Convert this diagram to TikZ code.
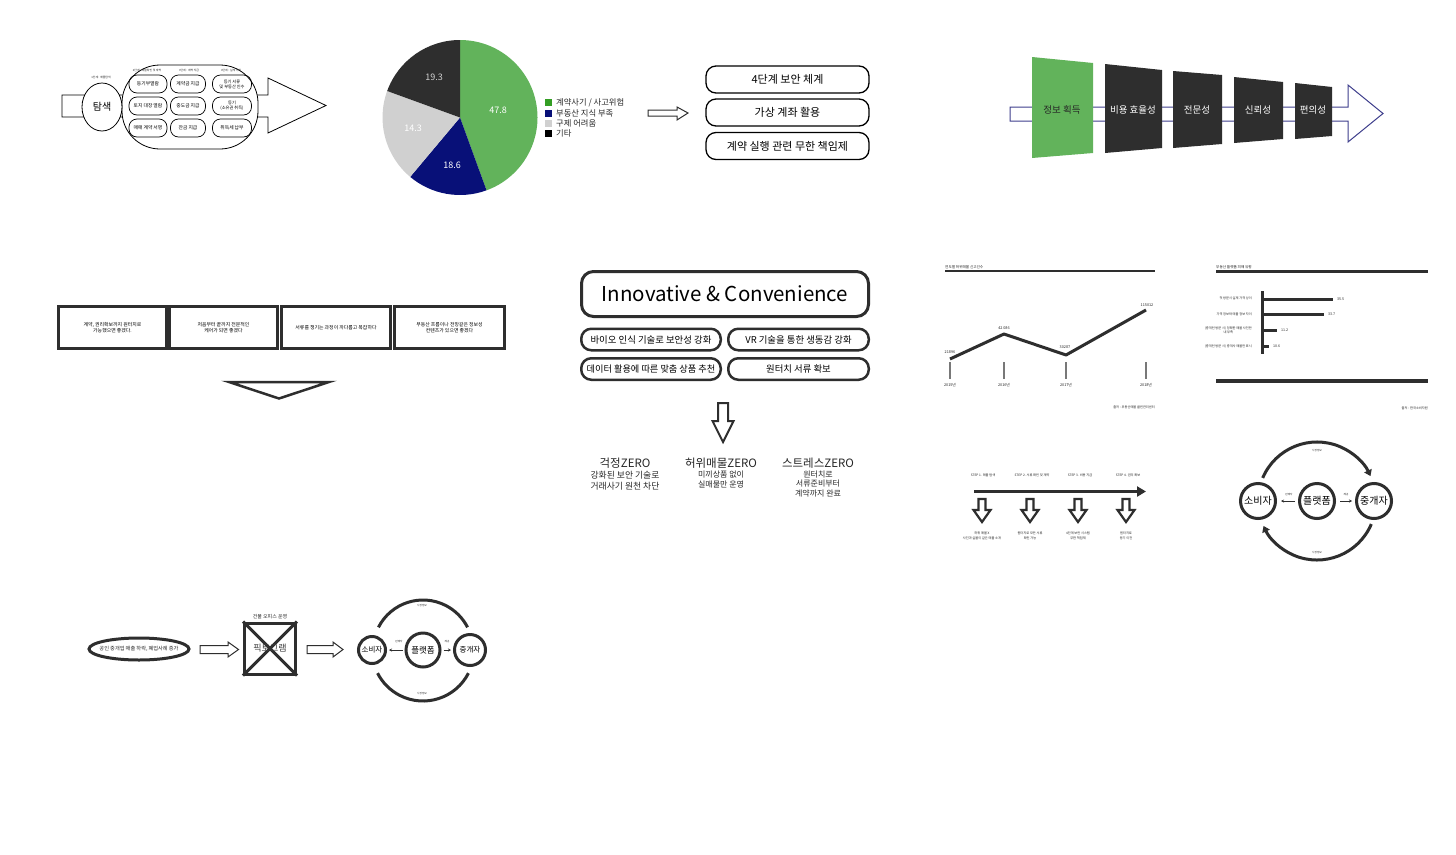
\documentclass[tikz,border=0pt]{standalone}
\usepackage{fontspec}
\setmainfont{Noto Sans CJK KR}
\usetikzlibrary{arrows.meta,shapes.geometric,calc}
\definecolor{pgreen}{RGB}{98,179,91}
\definecolor{lgreen}{RGB}{52,158,36}
\definecolor{pnavy}{RGB}{8,16,120}
\definecolor{plgray}{RGB}{208,208,208}
\definecolor{pdark}{RGB}{46,46,46}
\definecolor{fnavy}{RGB}{62,62,140}
\definecolor{tgray}{RGB}{120,120,120}
\newcommand\fz[2]{\fontsize{#1pt}{#2pt}\selectfont}
\begin{document}
\begin{tikzpicture}[x=1pt,y=1pt,yscale=-1,
  tx/.style={inner sep=0pt, align=center, text=black!85},
  tiny/.style={tx, font=\fz{3.2}{4}},
  minioval/.style={draw, line width=0.7pt, rounded corners=8pt, minimum height=18pt, inner sep=0pt, align=center, font=\fz{4.8}{5.6}},
  pill/.style={draw, line width=1.3pt, rounded corners=10pt, inner sep=0pt, minimum width=163pt, minimum height=27pt, font=\fz{11}{12}},
  tpill/.style={draw=pdark, line width=2.5pt, rounded corners=10pt, inner sep=0pt, minimum height=21.5pt, font=\fz{9.4}{11}},
  wish/.style={draw=pdark, line width=3pt, inner sep=0pt, minimum height=42pt, align=center, font=\fz{4.9}{6.5}},
  bigc/.style={draw=pdark, circle, line width=3pt, inner sep=0pt, minimum size=35pt, font=\fz{10}{12}},
  thk/.style={draw=pdark, line width=3pt},
  outarrow/.style={draw=pdark, fill=white, line width=1pt, line join=miter},
]
\useasboundingbox (0,0) rectangle (1456,854);
\fill[white] (0,0) rectangle (1456,854);

%================ fish diagram
\draw[line width=0.8pt, fill=white] (62,95) -- (268,95) -- (268,78) -- (326,105.5) -- (268,133) -- (268,117) -- (62,117) -- cycle;
\node[draw, fill=white, line width=0.8pt, minimum width=136pt, minimum height=84pt, rounded corners=38pt] (cont) at (190,107) {};
\node[draw, fill=white, ellipse, line width=0.8pt, minimum width=40pt, minimum height=48pt, inner sep=0pt, font=\fz{10}{12}] (tams) at (102,107) {탐색};
\node[minioval, minimum width=38pt] (s11) at (148,84) {등기부열람};
\node[minioval, minimum width=35pt] (s12) at (188,84) {계약금 지급};
\node[minioval, minimum width=39pt, font=\fz{4.2}{5}] (s13) at (232,84) {등기 서류\\및 부동산 인수};
\node[minioval, minimum width=38pt] (s21) at (148,106) {토지 대장 열람};
\node[minioval, minimum width=35pt] (s22) at (188,106) {중도금 지급};
\node[minioval, minimum width=39pt, font=\fz{4.2}{5}] (s23) at (232,106) {등기\\(소유권 취득)};
\node[minioval, minimum width=38pt] (s31) at (148,128) {매매 계약 서명};
\node[minioval, minimum width=35pt] (s32) at (188,128) {잔금 지급};
\node[minioval, minimum width=39pt] (s33) at (232,128) {취득세 납부};
\node[tiny, font=\fz{2.8}{3.5}] (l1) at (101,77) {1단계 : 매물탐색};
\node[tiny, font=\fz{2.8}{3.5}] (l2) at (147,70) {2단계 : 매물확인 및 계약};
\node[tiny, font=\fz{2.8}{3.5}] (l3) at (189,70) {3단계 : 계약 지급};
\node[tiny, font=\fz{2.8}{3.5}] (l4) at (231,70) {4단계 : 실제 거래};

%================ pie
\coordinate (pc) at (460,117.5);
\fill[pgreen] (pc) -- ++(-90:77.5) arc[start angle=-90, end angle=70, radius=77.5] -- cycle;
\fill[pnavy] (pc) -- ++(70:77.5) arc[start angle=70, end angle=130, radius=77.5] -- cycle;
\fill[plgray] (pc) -- ++(130:77.5) arc[start angle=130, end angle=200, radius=77.5] -- cycle;
\fill[pdark] (pc) -- ++(200:77.5) arc[start angle=200, end angle=270, radius=77.5] -- cycle;
\node[tx, text=white, font=\fz{9}{10}] (v1) at (498,110) {47.8};
\node[tx, text=white, font=\fz{9}{10}] (v2) at (452,165) {18.6};
\node[tx, text=white, font=\fz{9}{10}] (v3) at (413,128) {14.3};
\node[tx, text=plgray, font=\fz{9}{10}] (v4) at (434,77) {19.3};
\fill[lgreen] (545,99) rectangle (552,106);
\node[tx, anchor=west, font=\fz{8.3}{9}] (g1) at (556,102.5) {계약사기 / 사고위험};
\fill[pnavy] (545,109.5) rectangle (552,116.5);
\node[tx, anchor=west, font=\fz{8.3}{9}] (g2) at (556,113) {부동산 지식 부족};
\fill[plgray] (545,120) rectangle (552,127);
\node[tx, anchor=west, font=\fz{8.3}{9}] (g3) at (556,123.5) {구제 어려움};
\fill[black] (545,130) rectangle (552,137);
\node[tx, anchor=west, font=\fz{8.3}{9}] (g4) at (556,133.5) {기타};
\draw[outarrow] (648,110) -- (677,110) -- (677,107) -- (688,113) -- (677,120) -- (677,116) -- (648,116) -- cycle;

%================ pills
\node[pill] (b1) at (787.5,79.5) {4단계 보안 체계};
\node[pill] (b2) at (787.5,112.5) {가상 계좌 활용};
\node[pill] (b3) at (787.5,146) {계약 실행 관련 무한 책임제};

%================ funnel
\draw[fnavy, line width=1pt, fill=white] (1010,107) -- (1348,107) -- (1348,85) -- (1383,113.5) -- (1348,142) -- (1348,121) -- (1010,121) -- cycle;
\fill[pgreen] (1032,57) -- (1093,63) -- (1093,153) -- (1032,158) -- cycle;
\fill[pdark] (1105,64) -- (1162,70) -- (1162,148) -- (1105,153) -- cycle;
\fill[pdark] (1173,71) -- (1222,75) -- (1222,144) -- (1173,148) -- cycle;
\fill[pdark] (1234,77) -- (1283,82) -- (1283,139) -- (1234,143) -- cycle;
\fill[pdark] (1295,83) -- (1332,87) -- (1332,136) -- (1295,139) -- cycle;
\node[tx, text=black!85, font=\fz{9.5}{11}] (f1) at (1062,110) {정보 획득};
\node[tx, text=white, font=\fz{9.5}{11}] (f2) at (1133,110) {비용 효율성};
\node[tx, text=white, font=\fz{9.5}{11}] (f3) at (1197,110) {전문성};
\node[tx, text=white, font=\fz{9.5}{11}] (f4) at (1258,110) {신뢰성};
\node[tx, text=white, font=\fz{9.5}{11}] (f5) at (1313,110) {편의성};

%================ wishes
\node[wish, minimum width=108pt] (w1) at (112.5,327.5) {계약, 권리확보까지 원터치로\\가능했으면 좋겠다.};
\node[wish, minimum width=108pt] (w2) at (223.5,327.5) {처음부터 끝까지 전문적인\\케어가 되면 좋겠다};
\node[wish, minimum width=109pt] (w3) at (336,327.5) {서류를 챙기는 과정이 까다롭고 복잡하다};
\node[wish, minimum width=110pt] (w4) at (449.5,327.5) {부동산 흐름이나 전망같은 정보성\\컨텐츠가 있으면 좋겠다};
\draw[draw=pdark, line width=2.5pt, fill=white, line join=miter] (229,382) -- (329,382) -- (279,398.5) -- cycle;

%================ innovative
\node[draw=pdark, line width=3pt, rounded corners=12pt, minimum width=287pt, minimum height=45pt, inner sep=0pt, font=\fz{20.5}{22}] (inno) at (725,294) {Innovative \& Convenience};
\node[tpill, minimum width=139.5pt] (i1) at (651,339.5) {바이오 인식 기술로 보안성 강화};
\node[tpill, minimum width=140.5pt] (i2) at (798.5,339.5) {VR 기술을 통한 생동감 강화};
\node[tpill, minimum width=139.5pt, font=\fz{9.2}{11}] (i3) at (651,369) {데이터 활용에 따른 맞춤 상품 추천};
\node[tpill, minimum width=140.5pt] (i4) at (798.5,369) {원터치 서류 확보};
\draw[draw=pdark, fill=white, line width=2pt, line join=miter] (718,403) -- (728,403) -- (728,421) -- (733.5,421) -- (723,442) -- (712.5,421) -- (718,421) -- cycle;
\node[tx, font=\fz{11.5}{13}] (z1) at (625,463) {걱정ZERO};
\node[tx, font=\fz{8.8}{11}] (z1s) at (625,480.5) {강화된 보안 기술로\\거래사기 원천 차단};
\node[tx, font=\fz{11.5}{13}] (z2) at (721,463) {허위매물ZERO};
\node[tx, font=\fz{8}{10}] (z2s) at (721,479) {미끼상품 없이\\실매물만 운영};
\node[tx, font=\fz{11.5}{13}] (z3) at (818,463) {스트레스ZERO};
\node[tx, font=\fz{8}{9.5}] (z3s) at (818,483.5) {원터치로\\서류준비부터\\계약까지 완료};

%================ line chart
\node[tiny, anchor=south west, font=\fz{3.6}{4}] (lct) at (945,269) {연도별 허위매물 신고건수};
\draw[pdark, line width=1.2pt] (945,271) -- (1155,271);
\coordinate (lp1) at (950,359);
\coordinate (lp2) at (1004,334);
\coordinate (lp3) at (1066,355);
\coordinate (lp4) at (1146,310);
\draw[pdark, line width=3pt, line join=round] (lp1) -- (lp2) -- (lp3) -- (lp4);
\node[tiny, font=\fz{3.8}{4}] (lv1) at (950,352) {21896};
\node[tiny, font=\fz{3.8}{4}] (lv2) at (1004,328) {42 086};
\node[tiny, font=\fz{3.8}{4}] (lv3) at (1065,347) {30287};
\node[tiny, font=\fz{3.8}{4}] (lv4) at (1147,305) {115012};
\foreach \xx/\yr in {950/2015년, 1004/2016년, 1066/2017년, 1146/2018년}{
  \draw[tgray, line width=2pt] (\xx,362) -- (\xx,379);
  \node[tiny, font=\fz{3.8}{4}] at (\xx,385) {\yr};
}
\node[tiny, anchor=east] (lsrc) at (1155,407) {출처 : 부동산매물 클린관리센터};

%================ bar chart
\node[tiny, anchor=south west, font=\fz{3.6}{4}] (bct) at (1216,269) {부동산 플랫폼 피해 유형};
\draw[pdark, line width=3pt] (1216,271) -- (1428,271);
\coordinate (ax0) at (1262,291);
\coordinate (ax1) at (1262,354);
\draw[pdark, line width=3pt] (ax0) -- (ax1);
\draw[pdark, line width=3pt] (1262,299) -- (1333,299);
\draw[pdark, line width=3pt] (1262,314) -- (1324,314);
\draw[pdark, line width=3pt] (1262,330) -- (1277,330);
\draw[pdark, line width=3pt] (1262,346) -- (1269,346);
\node[tiny, anchor=west, font=\fz{3.6}{4}] at (1337,299) {35.5};
\node[tiny, anchor=west, font=\fz{3.6}{4}] at (1328,314) {33.7};
\node[tiny, anchor=west, font=\fz{3.6}{4}] at (1281,330) {11.2};
\node[tiny, anchor=west, font=\fz{3.6}{4}] at (1273,346) {10.6};
\node[tiny, anchor=east, align=right] at (1252,298) {첫 방문시 실제 가격 상이};
\node[tiny, anchor=east, align=right] at (1252,314) {가격 정보와 매물 정보 차이};
\node[tiny, anchor=east, align=center] at (1252,330) {(중개인 방문 시) 정확한 매물 사전안\\내 부족};
\node[tiny, anchor=east, align=right] at (1252,346) {(중개인 방문 시) 중개사 매물만 표시};
\draw[pdark, line width=3.5pt] (1216,381) -- (1428,381);
\node[tiny, anchor=east] (bsrc) at (1428,408) {출처 : 한국소비자원};

%================ steps
\coordinate (st0) at (974,491.5);
\coordinate (st1) at (1146,491.5);
\draw[pdark, line width=3pt, -{Triangle[length=9pt, width=10pt]}] (st0) -- (st1);
\node[tiny] at (983,475) {STEP 1. 매물 탐색};
\node[tiny] at (1032,475) {STEP 2. 서류 확인 및 계약};
\node[tiny] at (1080,475) {STEP 3. 비용 지급};
\node[tiny] at (1128,475) {STEP 4. 권리 확보};
\foreach \cx in {982,1030,1078,1126}{
  \draw[draw=pdark, fill=white, line width=2.2pt, line join=miter] ({\cx-3.5},499) -- ({\cx+3.5},499) -- ({\cx+3.5},510) -- ({\cx+8.5},510) -- (\cx,522) -- ({\cx-8.5},510) -- ({\cx-3.5},510) -- cycle;
}
\node[tiny, font=\fz{3.2}{4.6}] at (982,536) {허위 매물 X\\사진과 실물이 같은 매물 소개};
\node[tiny, font=\fz{3.2}{4.6}] at (1030,536) {원터치로 모든 서류\\확인 가능};
\node[tiny, font=\fz{3.2}{4.6}] at (1078,536) {4단계 보안 시스템\\무한 책임제};
\node[tiny, font=\fz{3.2}{4.6}] at (1126,536) {원터치로\\등기 이전};

%================ circle diagram right
\node[bigc] (cs) at (1258,501) {소비자};
\node[bigc] (cp) at (1317,501) {플랫폼};
\node[bigc] (cj) at (1374,501) {중개자};
\draw[pdark, line width=3pt, -{Triangle[length=6pt, width=8pt]}] ($(cp)+(-157:59)$) arc[start angle=-157, end angle=-25, radius=59];
\draw[pdark, line width=3pt, -{Triangle[length=6pt, width=8pt]}] ($(cp)+(23:59)$) arc[start angle=23, end angle=155, radius=59];
\draw[pdark, line width=0.8pt, -{Stealth[length=3pt, width=3pt]}] ([xshift=-3pt]cp.west) -- ([xshift=4pt]cs.east);
\draw[pdark, line width=0.8pt, -{Stealth[length=3pt, width=3pt]}] ([xshift=4pt]cp.east) -- ([xshift=-3pt]cj.west);
\node[tiny, font=\fz{2.6}{3}] at (1289,495) {판매자};
\node[tiny, font=\fz{2.6}{3}] at (1346,495) {제공};
\node[tiny, font=\fz{2.6}{3}] at (1317,451) {시장정보};
\node[tiny, font=\fz{2.6}{3}] at (1317,553) {시장정보};

%================ bottom-left
\node[draw=pdark, ellipse, line width=3pt, minimum width=100pt, minimum height=22pt, inner sep=0pt, font=\fz{5.2}{6}] (el) at (139,649) {};
\node[tx, font=\fz{5.2}{6}] at (el) {공인 중개업 매출 하락, 폐업사례 증가};
\draw[outarrow] (200,645.5) -- (228,645.5) -- (228,642) -- (238.5,649.5) -- (228,657) -- (228,653.5) -- (200,653.5) -- cycle;
\node[draw=pdark, line width=3pt, minimum size=51pt, inner sep=0pt] (pic) at (270,648.5) {};
\draw[pdark, line width=3pt] (pic.north west) -- (pic.south east);
\draw[pdark, line width=3pt] (pic.north east) -- (pic.south west);
\node[tx, font=\fz{9}{10}, text=black!75] at (pic) {픽토그램};
\node[tx, font=\fz{5}{6}] at (270,617) {건물 오피스 운영};
\draw[outarrow] (307,645.5) -- (333,645.5) -- (333,642) -- (343,649.5) -- (333,657) -- (333,653.5) -- (307,653.5) -- cycle;
\node[draw=pdark, circle, line width=3pt, minimum size=27pt, inner sep=0pt, font=\fz{7.5}{8}] (ds) at (372,650) {소비자};
\node[draw=pdark, circle, line width=3pt, minimum size=34pt, inner sep=0pt, font=\fz{8.5}{9}] (dp) at (423,650) {플랫폼};
\node[draw=pdark, circle, line width=3pt, minimum size=31pt, inner sep=0pt, font=\fz{7.5}{8}] (dj) at (470,650) {중개자};
\draw[pdark, line width=3pt] ($(dp)+(-153:50)$) arc[start angle=-153, end angle=-27, radius=50];
\draw[pdark, line width=3pt] ($(dp)+(27:51)$) arc[start angle=27, end angle=153, radius=51];
\draw[pdark, line width=0.8pt, -{Stealth[length=3pt, width=3pt]}] ([xshift=-2pt]dp.west) -- ([xshift=2pt]ds.east);
\draw[pdark, line width=0.8pt, -{Stealth[length=3pt, width=3pt]}] ([xshift=2pt]dp.east) -- ([xshift=-2pt]dj.west);
\node[tiny, font=\fz{2.6}{3}] at (399,642) {판매자};
\node[tiny, font=\fz{2.6}{3}] at (447,642) {제공};
\node[tiny, font=\fz{2.6}{3}] at (422,606) {시장정보};
\node[tiny, font=\fz{2.6}{3}] at (422,694) {시장정보};
\end{tikzpicture}
\end{document}
